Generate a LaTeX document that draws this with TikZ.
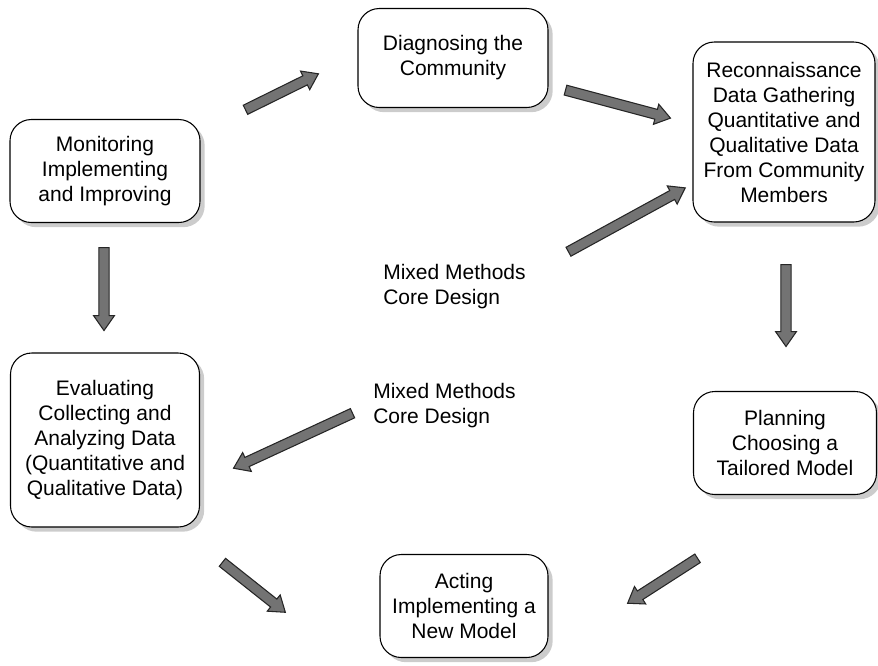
\documentclass[tikz,border=0pt]{standalone}
\usepackage{fontspec}
\setmainfont{Liberation Sans}
\usetikzlibrary{shapes.arrows,shadows,calc}
\tikzset{
  stagebox/.style={draw=black, line width=0.8pt, fill=white, rounded corners=16pt,
    align=center, inner sep=0pt,
    drop shadow={shadow xshift=3.5pt, shadow yshift=-3.5pt, fill=gray!40, opacity=1}},
  fatarrow/.style={single arrow, draw=black!85, fill=black!55, line width=0.8pt,
    inner sep=3.4pt, single arrow head extend=4pt, single arrow tip angle=70},
  plainlabel/.style={align=left, inner sep=0pt}
}
\newcommand\bigarrow[2]{%
  \path let \p1=($(#2)-(#1)$), \n1={atan2(\y1,\x1)}, \n2={veclen(\x1,\y1)} in
    node[fatarrow, anchor=tail, rotate=\n1, minimum height=\n2] at (#1) {};}
\begin{document}
\begin{tikzpicture}[x=0.75pt,y=-0.75pt,
  every node/.append style={font=\fontsize{15.75}{18.75}\selectfont}]
\useasboundingbox (0,0) rectangle (878,665);

\node[stagebox, minimum width=190*0.75pt, minimum height=99*0.75pt] (diag) at (453,58)
  {Diagnosing the\\Community};
\node[stagebox, minimum width=182*0.75pt, minimum height=180*0.75pt] (recon) at (784,132)
  {Reconnaissance\\Data Gathering\\Quantitative and\\Qualitative Data\\From Community\\Members};
\node[stagebox, minimum width=190*0.75pt, minimum height=103*0.75pt] (monit) at (105,171)
  {Monitoring\\Implementing\\and Improving};
\node[stagebox, minimum width=189*0.75pt, minimum height=174*0.75pt] (eval) at (105,440)
  {Evaluating\\Collecting and\\Analyzing Data\\(Quantitative and\\Qualitative Data)};
\node[stagebox, minimum width=183*0.75pt, minimum height=103*0.75pt] (plan) at (785,443)
  {Planning\\Choosing a\\Tailored Model};
\node[stagebox, minimum width=168*0.75pt, minimum height=103*0.75pt] (act) at (464,606)
  {Acting\\Implementing a\\New Model};

\node[plainlabel, anchor=west] (mm1) at (383,287) {Mixed Methods\\Core Design};
\node[plainlabel, anchor=west] (mm2) at (373,406) {Mixed Methods\\Core Design};

\coordinate (a1t) at (245,110); \coordinate (a1h) at (318,74);
\coordinate (a2t) at (565,90);  \coordinate (a2h) at (670,118);
\coordinate (a3t) at (786,264); \coordinate (a3h) at (786,346);
\coordinate (a4t) at (698,558); \coordinate (a4h) at (628,603);
\coordinate (a5t) at (222,562); \coordinate (a5h) at (285,612);
\coordinate (a6t) at (353,413); \coordinate (a6h) at (234,468);
\coordinate (a7t) at (568,252); \coordinate (a7h) at (685,188);
\coordinate (a8t) at (104,247); \coordinate (a8h) at (104,330);

\bigarrow{a1t}{a1h}
\bigarrow{a2t}{a2h}
\bigarrow{a3t}{a3h}
\bigarrow{a4t}{a4h}
\bigarrow{a5t}{a5h}
\bigarrow{a6t}{a6h}
\bigarrow{a7t}{a7h}
\bigarrow{a8t}{a8h}
\end{tikzpicture}
\end{document}
